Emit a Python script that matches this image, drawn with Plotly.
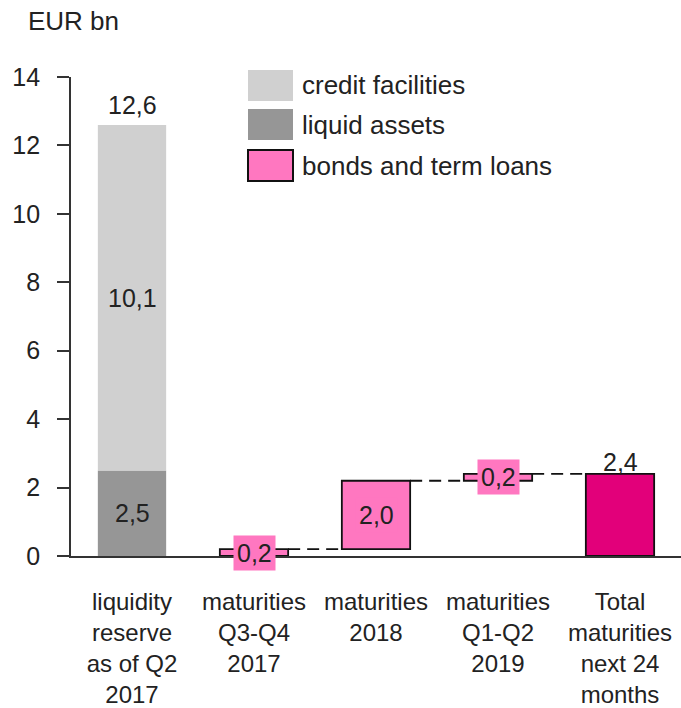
import plotly.graph_objects as go

# ---- data ----
categories = [
    "liquidity<br>reserve<br>as of Q2<br>2017",
    "maturities<br>Q3-Q4<br>2017",
    "maturities<br>2018",
    "maturities<br>Q1-Q2<br>2019",
    "Total<br>maturities<br>next 24<br>months",
]
liquid_assets = [2.5]
credit_facilities = [10.1]
maturity_values = [0.2, 2.0, 0.2]
total_maturities = [2.4]
y_ticks = [0, 2, 4, 6, 8, 10, 12, 14]
legend_labels = ["credit facilities", "liquid assets", "bonds and term loans"]
unit_label = "EUR bn"

# ---- styles ----
FONT = "Liberation Sans, Arial, sans-serif"
TXT = "#222222"
LIGHT = "#D0D0D0"
DARK = "#969696"
PINK = "#FF77C0"
MAGENTA = "#E2007A"
LINE = "#333333"
BW = 0.56

num_font = dict(family=FONT, size=25, color=TXT)
word_font = dict(family=FONT, size=26, color=TXT)
cat_font = dict(family=FONT, size=24, color=TXT)

W, H = 681, 708
PL, PT, PB = 71, 77, 556  # plot-area edges in pixels


def fmt(v):
    return f"{v:.1f}".replace(".", ",")


x_idx = list(range(len(categories)))
fig = go.Figure()

# stacked liquidity reserve
fig.add_trace(go.Bar(x=[x_idx[0]], y=liquid_assets, base=[0], width=BW,
                     marker=dict(color=DARK, line=dict(width=0)),
                     showlegend=False, hoverinfo="skip"))
fig.add_trace(go.Bar(x=[x_idx[0]], y=credit_facilities, base=liquid_assets, width=BW,
                     marker=dict(color=LIGHT, line=dict(width=0)),
                     showlegend=False, hoverinfo="skip"))

# waterfall maturities
bases = []
cum = 0.0
for v in maturity_values:
    bases.append(cum)
    cum += v
mx = x_idx[1:4]
fig.add_trace(go.Bar(x=mx, y=maturity_values, base=bases, width=BW,
                     marker=dict(color=PINK, line=dict(color="#111111", width=1.8)),
                     showlegend=False, hoverinfo="skip"))
fig.add_trace(go.Bar(x=[x_idx[4]], y=total_maturities, base=[0], width=BW,
                     marker=dict(color=MAGENTA, line=dict(color="#111111", width=1.8)),
                     showlegend=False, hoverinfo="skip"))

# dashed connectors
levels = [b + v for b, v in zip(bases, maturity_values)]
for i, lvl in enumerate(levels):
    x0 = mx[i] + BW / 2
    x1 = mx[i] + 1 - BW / 2
    fig.add_trace(go.Scatter(x=[x0, x1], y=[lvl, lvl], mode="lines",
                             line=dict(color="#111111", width=1.8, dash="12px,7px"),
                             showlegend=False, hoverinfo="skip"))

annotations = []
# reserve labels
annotations.append(dict(x=x_idx[0], y=liquid_assets[0] / 2, text=fmt(liquid_assets[0]),
                        showarrow=False, font=num_font))
annotations.append(dict(x=x_idx[0], y=liquid_assets[0] + credit_facilities[0] / 2,
                        text=fmt(credit_facilities[0]), showarrow=False, font=num_font))
annotations.append(dict(x=x_idx[0], y=liquid_assets[0] + credit_facilities[0],
                        text=fmt(liquid_assets[0] + credit_facilities[0]),
                        showarrow=False, font=num_font, yanchor="bottom", yshift=4))
# waterfall labels
for i, v in enumerate(maturity_values):
    annotations.append(dict(x=mx[i], y=bases[i] + v / 2, text=fmt(v), showarrow=False,
                            font=num_font, bgcolor=PINK, borderpad=3))
annotations.append(dict(x=x_idx[4], y=total_maturities[0], text=fmt(total_maturities[0]),
                        showarrow=False, font=num_font, yanchor="bottom", yshift=-4))


def px_x(p):
    return (p - PL) / (W - PL)


def px_y(p):
    return (PB - p) / (PB - PT)


# unit label
annotations.append(dict(xref="paper", yref="paper", x=px_x(26), y=px_y(21), text=unit_label,
                        showarrow=False, xanchor="left", yanchor="middle", font=word_font))

# custom legend
legend_colors = [LIGHT, DARK, PINK]
legend_borders = [None, None, "#111111"]
leg_tops = [70, 109, 150]
sw_x0, sw_x1, sw_h = 248, 293, 31
shapes = []
for lab, col, brd, top in zip(legend_labels, legend_colors, legend_borders, leg_tops):
    shapes.append(dict(type="rect", xref="paper", yref="paper",
                       x0=px_x(sw_x0), x1=px_x(sw_x1), y0=px_y(top + sw_h), y1=px_y(top),
                       fillcolor=col,
                       line=dict(color=brd if brd else col, width=2 if brd else 0)))
    annotations.append(dict(xref="paper", yref="paper", x=px_x(300), y=px_y(top + sw_h / 2),
                            text=lab, showarrow=False, xanchor="left", yanchor="middle",
                            font=word_font))

fig.update_layout(
    width=W, height=H,
    margin=dict(l=PL, r=W - 681, t=PT, b=H - PB, pad=0, autoexpand=False),
    paper_bgcolor="white", plot_bgcolor="white",
    barmode="overlay",
    font=num_font,
    annotations=annotations,
    shapes=shapes,
    showlegend=False,
    xaxis=dict(range=[-0.5, 4.5], tickmode="array", tickvals=x_idx, ticktext=categories,
               showline=True, linecolor=LINE, linewidth=1.8, showgrid=False, zeroline=False,
               ticks="", tickfont=cat_font, ticklabelstandoff=23, fixedrange=True,
               automargin=False),
    yaxis=dict(range=[0, 14], tickmode="array", tickvals=y_ticks,
               ticktext=[str(t) for t in y_ticks],
               showline=True, linecolor=LINE, linewidth=1.8, showgrid=False, zeroline=False,
               ticks="outside", ticklen=12, tickwidth=1.8, tickcolor=LINE,
               tickfont=num_font, ticklabelstandoff=12, fixedrange=True,
               automargin=False),
)

# remove the default 8px page margin so the figure fills the 681x708 window exactly
fig.write_html("out.html", config={"displayModeBar": False},
               post_script="document.body.style.margin='0';")
